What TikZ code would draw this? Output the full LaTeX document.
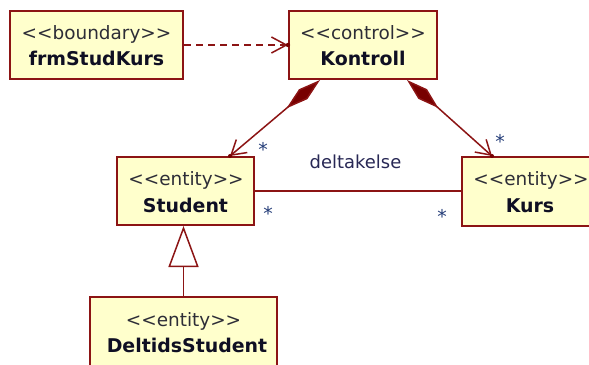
\documentclass[tikz,border=0pt]{standalone}
\usepackage{fontspec}
\setmainfont{DejaVu Sans}
\usetikzlibrary{arrows.meta,calc}
\definecolor{umlborder}{RGB}{140,20,20}
\definecolor{umldark}{RGB}{120,0,0}
\definecolor{umlfill}{RGB}{255,255,204}
\definecolor{umltext}{RGB}{15,15,35}
\definecolor{umlstereo}{RGB}{45,45,55}
\definecolor{umlstar}{RGB}{35,60,120}
\definecolor{umllabel}{RGB}{40,40,85}
\begin{document}
\begin{tikzpicture}[x=1bp,y=-1bp,
  classbox/.style={draw=umlborder,fill=umlfill,line width=2bp,inner sep=0pt},
  stereo/.style={anchor=base,font=\fontsize{18.5}{20}\selectfont,text=umlstereo,inner sep=0pt},
  cname/.style={anchor=base,font=\fontsize{19}{21}\selectfont\bfseries,text=umltext,inner sep=0pt},
  conn/.style={draw=umlborder,line width=1.5bp},
  mult/.style={text=umlstar,font=\fontsize{19}{20}\selectfont,inner sep=0pt},
  lbl/.style={anchor=base,text=umllabel,font=\fontsize{18}{20}\selectfont,inner sep=0pt}]
\fill[white] (0,0) rectangle (589,364);
\clip (0,0) rectangle (589,364);
% classes
\node[classbox,minimum width=173bp,minimum height=68bp] (frm) at (96.5,45) {};
\node[stereo] (frmS) at (96.5,39) {<\kern0pt<boundary>\kern0pt>};
\node[cname] (frmN) at (96.5,65) {frmStudKurs};
\node[classbox,minimum width=148bp,minimum height=68bp] (kon) at (363,45) {};
\node[stereo] (konS) at (363,39) {<\kern0pt<control>\kern0pt>};
\node[cname] (konN) at (363,65) {Kontroll};
\node[classbox,minimum width=137bp,minimum height=68bp] (stu) at (185.5,191) {};
\node[stereo] (stuS) at (186,185) {<\kern0pt<entity>\kern0pt>};
\node[cname] (stuN) at (185.5,212) {Student};
\node[classbox,minimum width=138bp,minimum height=69bp] (kurs) at (531,191.5) {};
\node[stereo] (kursS) at (531,185) {<\kern0pt<entity>\kern0pt>};
\node[cname] (kursN) at (530,212) {Kurs};
\node[classbox,minimum width=187bp,minimum height=80bp] (del) at (183.5,337) {};
\node[stereo] (delS) at (183.5,326) {<\kern0pt<entity>\kern0pt>};
\node[cname] (delN) at (187,352) {DeltidsStudent};
% dependency
\draw[conn,dash pattern=on 7bp off 5bp,-{Straight Barb[length=15bp,width=16bp]}] (frm.east) -- (kon.west);
\fill[umldark] (kon.west) circle (2.2bp);
% compositions
\draw[conn,{Diamond[length=44bp,width=13bp,fill=umldark]}-{Straight Barb[length=14bp,width=17bp]}] ([xshift=-43bp]kon.south) -- ([xshift=44.5bp]stu.north);
\fill[umldark] ([xshift=44.5bp]stu.north) circle (2bp);
\draw[conn,{Diamond[length=42bp,width=13bp,fill=umldark]}-{Straight Barb[length=14bp,width=17bp]}] ([xshift=44bp]kon.south) -- ([xshift=-39bp]kurs.north);
\fill[umldark] ([xshift=-39bp]kurs.north) circle (2bp);
% association
\draw[conn] (stu.east) -- (stu.east -| kurs.west);
\node[lbl] (assoc) at (355.5,168) {deltakelse};
% generalization
\draw[conn,-{Triangle[open,length=41bp,width=30bp]}] (del.north) -- (del.north |- stu.south);
% multiplicities
\node[mult] (m1) at (263,149) {*};
\node[mult] (m2) at (500,141) {*};
\node[mult] (m3) at (268,213) {*};
\node[mult] (m4) at (442,216) {*};
\end{tikzpicture}
\end{document}
